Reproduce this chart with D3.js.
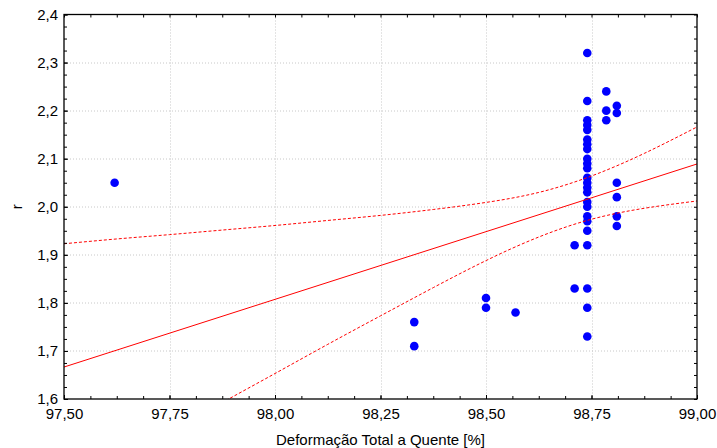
<!DOCTYPE html>
<html>
<head>
<meta charset="utf-8">
<script src="https://cdn.jsdelivr.net/npm/d3@7"></script>
<style>
  body { margin: 0; background: #fff; }
  svg { display: block; font-family: "Liberation Sans", Arial, sans-serif; }
</style>
</head>
<body>
<div id="chart"></div>
<script>
// scatter points
const pointX = [
    97.62,
    98.33, 98.33,
    98.50, 98.50,
    98.57,
    98.71, 98.71,
    98.74, 98.74, 98.74, 98.74, 98.74, 98.74, 98.74, 98.74, 98.74, 98.74, 98.74, 98.74,
    98.74, 98.74, 98.74, 98.74, 98.74, 98.74, 98.74, 98.74, 98.74, 98.74, 98.74, 98.74,
    98.785, 98.785, 98.785,
    98.81, 98.81, 98.81, 98.81, 98.81, 98.81
];
const pointY = [
    2.05,
    1.76, 1.71,
    1.81, 1.79,
    1.78,
    1.92, 1.83,
    2.32, 2.22, 2.18, 2.17, 2.16, 2.14, 2.13, 2.12, 2.10, 2.09, 2.08, 2.06,
    2.05, 2.04, 2.03, 2.01, 2.00, 1.98, 1.97, 1.95, 1.92, 1.83, 1.79, 1.73,
    2.24, 2.20, 2.18,
    2.21, 2.195, 2.05, 2.02, 1.98, 1.96
];

// fitted line and 95% band
const fitX = [97.50, 99.00];
const fitY = [1.6665, 2.089];
const bandX = [97.50, 97.625, 97.75, 97.875, 98.00, 98.125, 98.25, 98.375, 98.50, 98.625, 98.75, 98.875, 99.00];
const bandUpper = [1.923, 1.933, 1.942, 1.9515, 1.961, 1.9715, 1.982, 1.9943, 2.009, 2.0298, 2.064, 2.111, 2.166];
const bandLower = [1.410, 1.471, 1.532, 1.5927, 1.653, 1.7137, 1.773, 1.8317, 1.888, 1.937, 1.974, 1.9968, 2.012];

const xTicks = [97.50, 97.75, 98.00, 98.25, 98.50, 98.75, 99.00];
const yTicks = [1.6, 1.7, 1.8, 1.9, 2.0, 2.1, 2.2, 2.3, 2.4];
const xTitle = "Deformação Total a Quente [%]";
const yTitle = "r";

const width = 717, height = 448;
const margin = { left: 64, right: 20, top: 14.5, bottom: 49 };
const plotW = width - margin.left - margin.right;
const plotH = height - margin.top - margin.bottom;

const svg = d3.select("#chart")
    .append("svg")
    .attr("width", width)
    .attr("height", height);

const g = svg.append("g")
    .attr("transform", `translate(${margin.left},${margin.top})`);

const x = d3.scaleLinear().domain([97.5, 99.0]).range([0, plotW]);
const y = d3.scaleLinear().domain([1.6, 2.4]).range([plotH, 0]);

const fmtX = v => d3.format(".2f")(v).replace(".", ",");
const fmtY = v => d3.format(".1f")(v).replace(".", ",");

// grid
const grid = g.append("g")
    .attr("stroke", "#c8c8c8")
    .attr("stroke-width", 1)
    .attr("stroke-dasharray", "1,2");

grid.selectAll("line.gx")
    .data(xTicks.slice(1, -1))
    .join("line")
    .attr("x1", d => Math.round(x(d)) + 0.5)
    .attr("x2", d => Math.round(x(d)) + 0.5)
    .attr("y1", 0)
    .attr("y2", plotH);

grid.selectAll("line.gy")
    .data(yTicks.slice(1, -1))
    .join("line")
    .attr("x1", 0)
    .attr("x2", plotW)
    .attr("y1", d => Math.round(y(d)) + 0.5)
    .attr("y2", d => Math.round(y(d)) + 0.5);

// clip for the fit lines
svg.append("defs").append("clipPath")
    .attr("id", "plotClip")
    .append("rect")
    .attr("width", plotW)
    .attr("height", plotH);

// points
g.append("g")
    .selectAll("circle")
    .data(pointX.map((v, i) => [v, pointY[i]]))
    .join("circle")
    .attr("cx", d => x(d[0]))
    .attr("cy", d => y(d[1]))
    .attr("r", 4.3)
    .attr("fill", "#0000ff");

const lines = g.append("g").attr("clip-path", "url(#plotClip)");

const lineGen = d3.line()
    .x(d => x(d[0]))
    .y(d => y(d[1]));

lines.append("path")
    .datum(fitX.map((v, i) => [v, fitY[i]]))
    .attr("d", lineGen)
    .attr("fill", "none")
    .attr("stroke", "#ff0000")
    .attr("stroke-width", 1);

const bandGen = d3.line()
    .x(d => x(d[0]))
    .y(d => y(d[1]))
    .curve(d3.curveNatural);

[bandUpper, bandLower].forEach(vals => {
    lines.append("path")
        .datum(bandX.map((v, i) => [v, vals[i]]))
        .attr("d", bandGen)
        .attr("fill", "none")
        .attr("stroke", "#ff0000")
        .attr("stroke-width", 1)
        .attr("stroke-dasharray", "3,2");
});

// axes: ticks point inward on all four sides
const xMinor = d3.range(0, 25).map(i => 97.5 + i * 0.0625);
const yMinor = d3.range(0, 33).map(i => 1.6 + i * 0.025);

function styleAxis(sel) {
    sel.select(".domain").remove();
    sel.selectAll(".tick line").attr("stroke", "#000");
    sel.selectAll("text")
        .attr("fill", "#000")
        .attr("font-size", 15)
        .attr("font-family", "\"Liberation Sans\", Arial, sans-serif");
}

g.append("g")
    .attr("transform", `translate(0,${plotH})`)
    .call(d3.axisBottom(x).tickValues(xMinor).tickSize(-3).tickFormat(""))
    .call(styleAxis);
g.append("g")
    .attr("transform", `translate(0,${plotH})`)
    .call(d3.axisBottom(x).tickValues(xTicks).tickSize(-4).tickPadding(9).tickFormat(fmtX))
    .call(styleAxis);
g.append("g")
    .call(d3.axisTop(x).tickValues(xMinor).tickSize(-3).tickFormat(""))
    .call(styleAxis);

g.append("g")
    .call(d3.axisLeft(y).tickValues(yMinor).tickSize(-3).tickFormat(""))
    .call(styleAxis);
g.append("g")
    .call(d3.axisLeft(y).tickValues(yTicks).tickSize(-4).tickPadding(6).tickFormat(fmtY))
    .call(styleAxis);
g.append("g")
    .attr("transform", `translate(${plotW},0)`)
    .call(d3.axisRight(y).tickValues(yMinor).tickSize(-3).tickFormat(""))
    .call(styleAxis);

// frame
g.append("rect")
    .attr("width", plotW)
    .attr("height", plotH)
    .attr("fill", "none")
    .attr("stroke", "#000")
    .attr("stroke-width", 1.3);

// titles
svg.append("text")
    .attr("x", margin.left + plotW / 2)
    .attr("y", 445)
    .attr("text-anchor", "middle")
    .attr("font-size", 15)
    .text(xTitle);

svg.append("text")
    .attr("transform", `translate(22,${margin.top + plotH / 2}) rotate(-90)`)
    .attr("text-anchor", "middle")
    .attr("font-size", 15)
    .text(yTitle);
</script>
</body>
</html>
